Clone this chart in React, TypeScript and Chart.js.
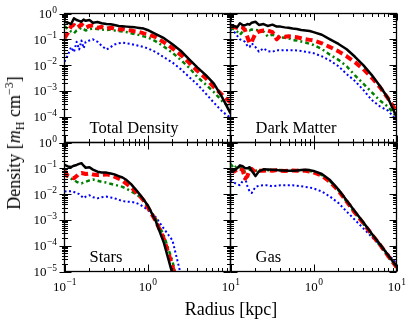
import React, { useEffect, useRef } from "react";
import { Chart, registerables } from "chart.js";

Chart.register(...registerables);

const W = 415;
const H = 325;

// ---- data (radius in kpc, density in m_H cm^-3) ----
const radiusKpc = [0.1, 0.11, 0.12, 0.13, 0.14, 0.15, 0.16, 0.17, 0.18, 0.2, 0.22, 0.25, 0.28, 0.32, 0.36, 0.4, 0.45, 0.5, 0.56, 0.63, 0.71, 0.8, 0.9, 1.0, 1.26, 1.58, 2.0, 2.51, 3.16, 3.98, 5.01, 6.31, 7.94, 10];

const totalSolid = [0.48, 0.44, 0.39, 0.65, 0.56, 0.52, 0.48, 0.58, 0.52, 0.56, 0.44, 0.47, 0.42, 0.39, 0.38, 0.36, 0.33, 0.32, 0.31, 0.30, 0.29, 0.275, 0.26, 0.23, 0.16, 0.11, 0.064, 0.036, 0.017, 0.0082, 0.0042, 0.0019, 0.00056, 0.000135];
const totalDashed = [0.11, 0.18, 0.32, 0.36, 0.28, 0.32, 0.38, 0.32, 0.28, 0.33, 0.35, 0.28, 0.30, 0.26, 0.28, 0.26, 0.24, 0.25, 0.23, 0.22, 0.20, 0.19, 0.17, 0.16, 0.12, 0.076, 0.045, 0.025, 0.0126, 0.006, 0.0032, 0.0014, 0.0007, 0.00035];
const totalDashDot = [0.32, 0.25, 0.20, 0.17, 0.22, 0.25, 0.28, 0.25, 0.22, 0.25, 0.26, 0.25, 0.24, 0.23, 0.24, 0.22, 0.21, 0.20, 0.19, 0.17, 0.16, 0.145, 0.13, 0.12, 0.083, 0.052, 0.030, 0.016, 0.008, 0.0035, 0.0018, 0.0009, 0.0004, 0.00022];
const totalDotted = [0.0135, 0.025, 0.05, 0.032, 0.08, 0.04, 0.09, 0.045, 0.08, 0.09, 0.1, 0.08, 0.056, 0.04, 0.05, 0.063, 0.07, 0.074, 0.07, 0.066, 0.06, 0.055, 0.05, 0.045, 0.032, 0.02, 0.0126, 0.007, 0.0035, 0.0018, 0.0008, 0.00035, 0.00016, 0.00009];

const dmSolid = [0.36, 0.33, 0.29, 0.42, 0.36, 0.35, 0.39, 0.37, 0.44, 0.48, 0.36, 0.39, 0.33, 0.37, 0.31, 0.31, 0.29, 0.28, 0.26, 0.25, 0.23, 0.22, 0.21, 0.19, 0.15, 0.10, 0.066, 0.041, 0.021, 0.010, 0.0042, 0.00155, 0.00051, 0.0001];
const dmDashed = [0.33, 0.30, 0.28, 0.30, 0.29, 0.22, 0.12, 0.07, 0.08, 0.17, 0.20, 0.22, 0.22, 0.19, 0.10, 0.14, 0.125, 0.13, 0.125, 0.12, 0.11, 0.10, 0.095, 0.09, 0.07, 0.05, 0.034, 0.022, 0.013, 0.007, 0.0033, 0.0014, 0.0005, 0.00016];
const dmDashDot = [0.28, 0.24, 0.20, 0.15, 0.20, 0.25, 0.24, 0.22, 0.24, 0.23, 0.22, 0.20, 0.13, 0.15, 0.13, 0.12, 0.115, 0.11, 0.093, 0.09, 0.082, 0.075, 0.067, 0.06, 0.042, 0.025, 0.016, 0.009, 0.004, 0.0019, 0.0009, 0.00042, 0.00024, 0.0001];
const dmDotted = [0.25, 0.20, 0.14, 0.10, 0.09, 0.08, 0.055, 0.05, 0.07, 0.05, 0.033, 0.045, 0.035, 0.033, 0.038, 0.037, 0.038, 0.038, 0.038, 0.037, 0.035, 0.033, 0.031, 0.029, 0.022, 0.015, 0.009, 0.0045, 0.0024, 0.0011, 0.00045, 0.00025, 0.00017, 0.000074];

const starsSolid = [0.135, 0.118, 0.112, 0.126, 0.135, 0.148, 0.158, 0.126, 0.105, 0.11, 0.089, 0.074, 0.069, 0.068, 0.063, 0.058, 0.05, 0.044, 0.035, 0.025, 0.016, 0.01, 0.006, 0.0038, 0.00089, 0.000126, 0.000008, null, null, null, null, null, null, null];
const starsDashed = [0.08, 0.05, 0.044, 0.041, 0.05, 0.063, 0.066, 0.063, 0.06, 0.063, 0.058, 0.055, 0.056, 0.058, 0.054, 0.047, 0.04, 0.033, 0.025, 0.019, 0.013, 0.0089, 0.0056, 0.0032, 0.00089, 0.000178, 0.000016, 0.000001, null, null, null, null, null, null];
const starsDashDot = [0.055, 0.047, 0.04, 0.035, 0.03, 0.027, 0.026, 0.028, 0.03, 0.034, 0.037, 0.033, 0.03, 0.028, 0.025, 0.023, 0.021, 0.019, 0.016, 0.013, 0.0105, 0.008, 0.0056, 0.0035, 0.0011, 0.00024, 0.000025, 0.000001, null, null, null, null, null, null];
const starsDotted = [0.0125, 0.013, 0.013, 0.012, 0.011, 0.01, 0.0083, 0.007, 0.008, 0.009, 0.0076, 0.0069, 0.0076, 0.008, 0.0074, 0.0069, 0.006, 0.0054, 0.0051, 0.005, 0.0047, 0.004, 0.0032, 0.0025, 0.00126, 0.00045, 0.00016, 0.000008, null, null, null, null, null, null];

const gasSolid = [0.075, 0.08, 0.10, 0.13, 0.12, 0.10, 0.10, 0.11, 0.08, 0.05, 0.076, 0.091, 0.089, 0.087, 0.085, 0.083, 0.083, 0.081, 0.081, 0.083, 0.085, 0.087, 0.085, 0.079, 0.06, 0.035, 0.015, 0.0057, 0.0021, 0.00081, 0.0003, 0.000115, 0.000043, 0.000016];
const gasDashed = [0.085, 0.075, 0.09, 0.10, 0.085, 0.04, 0.05, 0.09, 0.095, 0.07, 0.08, 0.08, 0.085, 0.08, 0.085, 0.08, 0.078, 0.08, 0.082, 0.08, 0.08, 0.08, 0.075, 0.07, 0.052, 0.03, 0.0135, 0.0052, 0.0019, 0.00075, 0.00028, 0.00011, 0.00004, 0.000015];
const gasDashDot = [0.15, 0.10, 0.13, 0.11, 0.085, 0.075, 0.08, 0.09, 0.085, 0.08, 0.085, 0.08, 0.085, 0.083, 0.087, 0.085, 0.082, 0.084, 0.082, 0.085, 0.083, 0.08, 0.078, 0.073, 0.055, 0.032, 0.014, 0.005, 0.0018, 0.0007, 0.00026, 0.0001, 0.000038, 0.000014];
const gasDotted = [0.035, 0.028, 0.024, 0.022, 0.032, 0.042, 0.02, 0.0126, 0.011, 0.019, 0.021, 0.022, 0.022, 0.02, 0.021, 0.022, 0.022, 0.022, 0.022, 0.021, 0.02, 0.019, 0.018, 0.0166, 0.0126, 0.008, 0.0045, 0.0021, 0.001, 0.00047, 0.00022, 0.000105, 0.000047, 0.000021];

const xTickExponents = [-1, 0, 1];
const yTickExponents = [0, -1, -2, -3, -4, -5];
const panelTitles = ["Total Density", "Dark Matter", "Stars", "Gas"];

// ---- layout ----
const X0 = 64.5, X1 = 230.5, X2 = 396.5;
const Y0 = 13.5, Y1 = 142.5, Y2 = 271.5;
const SERIF = '"Liberation Serif", "Times New Roman", serif';

const STYLES = [
  { color: "#000000", width: 2.5, dash: [] as number[] },
  { color: "#ff0000", width: 4, dash: [7, 4] },
  { color: "#008000", width: 2.5, dash: [4, 3, 2, 3] },
  { color: "#0000ff", width: 2, dash: [2, 2.5] },
];

const PANELS = [
  { title: panelTitles[0], series: [totalSolid, totalDashed, totalDashDot, totalDotted], box: [X0, Y0, X1, Y1], yLab: yTickExponents.slice(0, 5), xLab: [] as number[], outer: true },
  { title: panelTitles[1], series: [dmSolid, dmDashed, dmDashDot, dmDotted], box: [X1, Y0, X2, Y1], yLab: [] as number[], xLab: [] as number[], outer: false },
  { title: panelTitles[2], series: [starsSolid, starsDashed, starsDashDot, starsDotted], box: [X0, Y1, X1, Y2], yLab: yTickExponents, xLab: xTickExponents, outer: true },
  { title: panelTitles[3], series: [gasSolid, gasDashed, gasDashDot, gasDotted], box: [X1, Y1, X2, Y2], yLab: [] as number[], xLab: xTickExponents.slice(1), outer: false },
];

function drawPow(ctx: CanvasRenderingContext2D, exp: number, x: number, baseline: number, align: "right" | "center") {
  const base = "10";
  const sup = exp < 0 ? "\u2212" + Math.abs(exp) : String(exp);
  ctx.font = `13px ${SERIF}`;
  const wb = ctx.measureText(base).width;
  ctx.font = `9.5px ${SERIF}`;
  const ws = ctx.measureText(sup).width;
  const total = wb + ws;
  const start = align === "right" ? x - total : x - total / 2;
  ctx.textAlign = "left";
  ctx.textBaseline = "alphabetic";
  ctx.font = `13px ${SERIF}`;
  ctx.fillText(base, start, baseline);
  ctx.font = `9.5px ${SERIF}`;
  ctx.fillText(sup, start + wb + 0.5, baseline - 5.5);
}

const framePlugin = {
  id: "framePlugin",
  afterDatasetsDraw(chart: any, _args: any, opts: any) {
    const { ctx, chartArea: a, scales } = chart;
    const xs = scales.x;
    const ys = scales.y;
    const cfg = opts.cfg;
    ctx.save();
    ctx.strokeStyle = "#000";
    ctx.lineWidth = 1;
    ctx.beginPath();
    // x ticks (top & bottom, inward)
    for (let d = -1; d <= 1; d++) {
      for (let m = 1; m <= 9; m++) {
        const v = m * Math.pow(10, d);
        if (v > 10.0001) break;
        const px = Math.round(xs.getPixelForValue(v)) + 0.5;
        const len = m === 1 ? 7 : 3.5;
        ctx.moveTo(px, a.bottom);
        ctx.lineTo(px, a.bottom - len);
        ctx.moveTo(px, a.top);
        ctx.lineTo(px, a.top + len);
      }
    }
    // y ticks (left & right)
    for (let d = -5; d <= 0; d++) {
      for (let m = 1; m <= 9; m++) {
        const v = m * Math.pow(10, d);
        if (v > 1.0001) break;
        const py = Math.round(ys.getPixelForValue(v)) + 0.5;
        const len = m === 1 ? 7 : 3.5;
        const out = cfg.outer ? (m === 1 ? 5 : 2.5) : 0;
        ctx.moveTo(a.left - out, py);
        ctx.lineTo(a.left + len, py);
        ctx.moveTo(a.right, py);
        ctx.lineTo(a.right - len, py);
      }
    }
    ctx.stroke();
    ctx.lineWidth = 1.3;
    ctx.strokeRect(a.left, a.top, a.right - a.left, a.bottom - a.top);

    ctx.fillStyle = "#000";
    for (const e of cfg.yLab) {
      const py = ys.getPixelForValue(Math.pow(10, e));
      drawPow(ctx, e, a.left - 8, py + 4.5, "right");
    }
    for (const e of cfg.xLab) {
      const px = xs.getPixelForValue(Math.pow(10, e));
      drawPow(ctx, e, px, a.bottom + 19, "center");
    }
    ctx.font = `16.5px ${SERIF}`;
    ctx.textAlign = "left";
    ctx.textBaseline = "alphabetic";
    ctx.fillText(cfg.title, a.left + 25, a.bottom - 9.5);
    ctx.restore();
  },
};

function Panel({ cfg }: { cfg: any }) {
  const ref = useRef<HTMLCanvasElement>(null);
  useEffect(() => {
    const [l, t, r, b] = cfg.box;
    const datasets = cfg.series.map((vals: (number | null)[], i: number) => ({
      data: radiusKpc
        .map((x, k) => ({ x, y: vals[k] }))
        .filter((p) => p.y !== null),
      borderColor: STYLES[i].color,
      borderWidth: STYLES[i].width,
      borderDash: STYLES[i].dash,
      borderCapStyle: "butt",
      borderJoinStyle: "round",
      pointRadius: 0,
      tension: 0,
      fill: false,
    }));
    const chart = new Chart(ref.current as HTMLCanvasElement, {
      type: "line",
      data: { datasets },
      options: {
        animation: false,
        responsive: false,
        devicePixelRatio: 1,
        events: [],
        layout: { padding: { left: l, top: t, right: W - r, bottom: H - b } },
        scales: {
          x: { type: "logarithmic", min: 0.1, max: 10, display: false },
          y: { type: "logarithmic", min: 1e-5, max: 1, display: false },
        },
        plugins: {
          legend: { display: false },
          tooltip: { enabled: false },
          framePlugin: { cfg },
        } as any,
      },
      plugins: [framePlugin],
    } as any);
    return () => chart.destroy();
  }, [cfg]);
  return (
    <canvas
      ref={ref}
      width={W}
      height={H}
      style={{ position: "absolute", left: 0, top: 0, width: W, height: H }}
    />
  );
}

export default function App() {
  return (
    <div
      style={{
        position: "fixed",
        left: 0,
        top: 0,
        width: W,
        height: H,
        background: "#fff",
        overflow: "hidden",
        fontFamily: SERIF,
      }}
    >
      {PANELS.map((p, i) => (
        <Panel key={i} cfg={p} />
      ))}
      <div
        style={{
          position: "absolute",
          left: 15,
          top: 143,
          transform: "translate(-50%, -50%) rotate(-90deg)",
          whiteSpace: "nowrap",
          fontSize: 18,
          lineHeight: "20px",
        }}
      >
        Density [<i>m</i>
        <span style={{ fontSize: 12, position: "relative", top: 4 }}>H</span>
        {" cm"}
        <span style={{ fontSize: 12, position: "relative", top: -7 }}>{"\u22123"}</span>]
      </div>
      <div
        style={{
          position: "absolute",
          left: 231,
          top: 309,
          transform: "translate(-50%, -50%)",
          whiteSpace: "nowrap",
          fontSize: 18,
          lineHeight: "20px",
        }}
      >
        Radius [kpc]
      </div>
    </div>
  );
}
